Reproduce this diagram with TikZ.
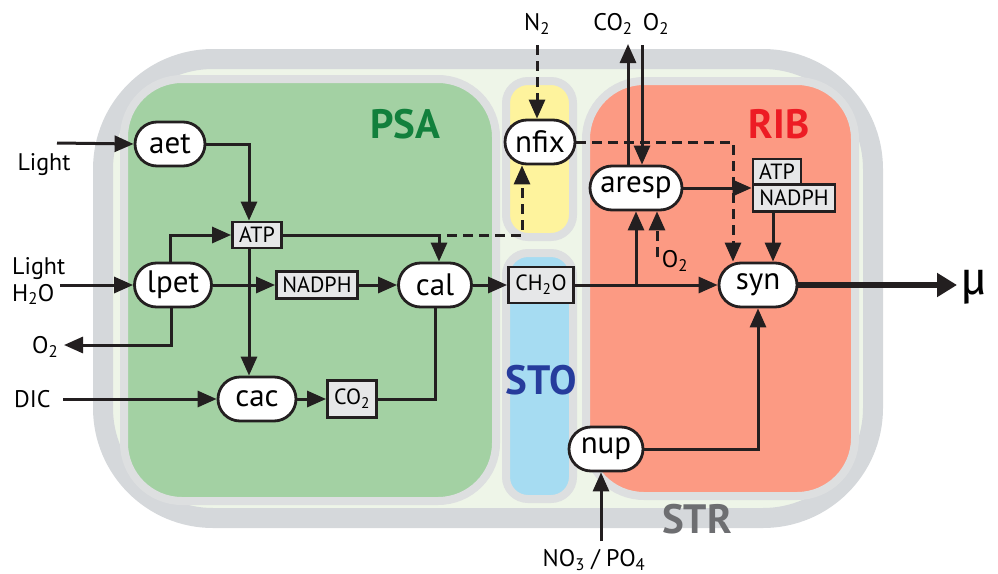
\documentclass[tikz,border=0pt]{standalone}
\usepackage{fontspec}
\setmainfont{PT Sans}
\newfontfamily\mufont{Fira Sans}
\usetikzlibrary{arrows.meta,shapes.misc}

\definecolor{ink}{HTML}{231F20}
\definecolor{cellgray}{HTML}{D5D8DB}
\definecolor{wallgray}{HTML}{DDDFE0}
\definecolor{cytofill}{HTML}{EEF5E8}
\definecolor{psafill}{HTML}{A3D1A3}
\definecolor{nfixfill}{HTML}{FEF39D}
\definecolor{stofill}{HTML}{A6DCF2}
\definecolor{ribfill}{HTML}{FC9A83}
\definecolor{poolfill}{HTML}{E6E7E8}
\definecolor{psatext}{HTML}{12803C}
\definecolor{ribtext}{HTML}{ED1C24}
\definecolor{stotext}{HTML}{263C9C}
\definecolor{strtext}{HTML}{6D6E71}

\begin{document}
\begin{tikzpicture}[x=1pt,y=-1pt,
  proc/.style={rounded rectangle,draw=ink,fill=white,line width=2.8pt,minimum height=44pt,inner sep=0pt,font=\fontsize{31}{31}\selectfont},
  pool/.style={draw=ink,fill=poolfill,line width=2.8pt,inner sep=0pt,font=\fontsize{22}{22}\selectfont},
  ext/.style={font=\fontsize{24}{27}\selectfont,align=left,inner sep=0pt},
  comp/.style={draw=wallgray,line width=8pt},
  region/.style={font=\fontsize{41}{41}\selectfont\bfseries},
  link/.style={draw=ink,line width=3pt},
  flow/.style={link,-{Triangle[length=19pt,width=16pt]}},
  dashflow/.style={flow,dash pattern=on 10pt off 6pt}]
\useasboundingbox (0,0) rectangle (998,573);

% cell and compartments
\draw[cellgray,line width=20pt,fill=cytofill,rounded corners=110pt] (103,59) rectangle (873,518);
\draw[comp,fill=psafill,rounded corners=58pt] (124,79) rectangle (496,501);
\draw[comp,fill=nfixfill,rounded corners=22pt] (506,81) rectangle (573,237);
\draw[comp,fill=stofill,rounded corners=22pt] (506,253) rectangle (573,499);
\draw[comp,fill=ribfill,rounded corners=58pt] (586,81) rectangle (855,496);

\node[region,text=psatext] (psa) at (405,124) {PSA};
\node[region,text=ribtext] (rib) at (779,124) {RIB};
\node[region,text=stotext] (sto) at (541,380) {STO};
\node[region,text=strtext] (str) at (697,519) {STR};

% processes
\node[proc,minimum width=70pt] (aet) at (170,144) {aet};
\node[proc,minimum width=77pt] (lpet) at (173,285) {lpet};
\node[proc,minimum width=73pt] (cal) at (435,285) {cal};
\node[proc,minimum width=78pt] (cac) at (257,399) {cac};
\node[proc,minimum width=70pt] (nfix) at (540,142) {nfix};
\node[proc,minimum width=92pt] (aresp) at (636,188) {aresp};
\node[proc,minimum width=78pt] (syn) at (758,285) {syn};
\node[proc,minimum width=74pt] (nup) at (606,449) {nup};

% pools
\node[pool,minimum width=49pt,minimum height=26pt] (atpL) at (257,235) {ATP};
\node[pool,minimum width=81pt,minimum height=27pt] (nadphL) at (317,285) {NADPH};
\node[pool,minimum width=49pt,minimum height=37pt] (co2) at (352,399) {CO\textsubscript{2}};
\node[pool,minimum width=65pt,minimum height=36pt] (ch2o) at (541,285) {CH\textsubscript{2}O};
\node[pool,minimum width=48pt,minimum height=26pt] (atpR) at (777,172) {ATP};
\node[pool,minimum width=82pt,minimum height=27pt] (nadphR) at (794,198) {NADPH};

% outside
\node[ext] (light1) at (44,165) {Light};
\node[ext,anchor=west] (light2) at (12,281) {Light\\H\textsubscript{2}O};
\node[ext,anchor=west] (o2L) at (32,347) {O\textsubscript{2}};
\node[ext,anchor=west] (dic) at (14,399) {DIC};
\node[ext] (n2) at (537,24) {N\textsubscript{2}};
\node[ext] (co2T) at (613,24) {CO\textsubscript{2}};
\node[ext] (o2T) at (656,24) {O\textsubscript{2}};
\node[ext] (o2R) at (675,261) {O\textsubscript{2}};
\node[ext] (nut) at (594,560) {NO\textsubscript{3} / PO\textsubscript{4}};
\node[font=\fontsize{46}{46}\selectfont\mufont,inner sep=0pt] (mu) at (974,287) {μ};

\coordinate (lightin) at (57,143);
\coordinate (lightwater) at (60,285);
\coordinate (o2out) at (64,345);
\coordinate (dicin) at (63,399);
\coordinate (n2in) at (537,45);
\coordinate (co2out) at (628,44);
\coordinate (o2in) at (642,45);
\coordinate (o2rin) at (657,257);
\coordinate (nutin) at (601,541);
\coordinate (muout) at (957,285);

% connectors
\draw[flow] (lightin) -- (aet.west);
\draw[flow] (lightwater) -- (lpet.west);
\draw[flow] (aet.east) -| ([xshift=-8pt]atpL.north);
\draw[flow] ([xshift=-3pt]lpet.north) |- (atpL.west);
\draw[flow] (lpet.east) -- (nadphL.west);
\draw[flow] ([xshift=-2pt]lpet.south) |- (o2out);
\draw[flow] ([xshift=-8pt]atpL.south) -- ([xshift=-8pt]cac.north);
\draw[flow] (atpL.east) -| ([xshift=4pt]cal.north);
\draw[dashflow] ([xshift=12pt]cal.north |- atpL.east) -| ([xshift=-18pt]nfix.south);
\draw[flow] (nadphL.east) -- (cal.west);
\draw[flow] (cal.east) -- (ch2o.west);
\draw[flow] (dicin) -- (cac.west);
\draw[flow] (cac.east) -- (co2.west);
\draw[link] (co2.east) -| (cal.south);
\draw[dashflow] (n2in) -- (n2in |- nfix.north);
\draw[dashflow] (nfix.east) -| ([xshift=-25pt]syn.north);
\draw[flow] (ch2o.east) -- (syn.west);
\draw[flow] (aresp.south |- ch2o.east) -- (aresp.south);
\draw[dashflow] (o2rin) -- (o2rin |- aresp.south);
\draw[flow] (co2out |- aresp.north) -- (co2out);
\draw[flow] (o2in) -- (o2in |- aresp.north);
\draw[flow] (aresp.east) -- (aresp.east -| nadphR.west);
\draw[flow] ([xshift=-21pt]nadphR.south) -- ([xshift=-21pt]nadphR.south |- syn.north);
\draw[link,line width=5.5pt,-{Triangle[length=20pt,width=23pt]}] (syn.east) -- (muout);
\draw[flow] (nup.east) -| (syn.south);
\draw[flow] (nutin) -- (nutin |- nup.south);
\end{tikzpicture}
\end{document}
